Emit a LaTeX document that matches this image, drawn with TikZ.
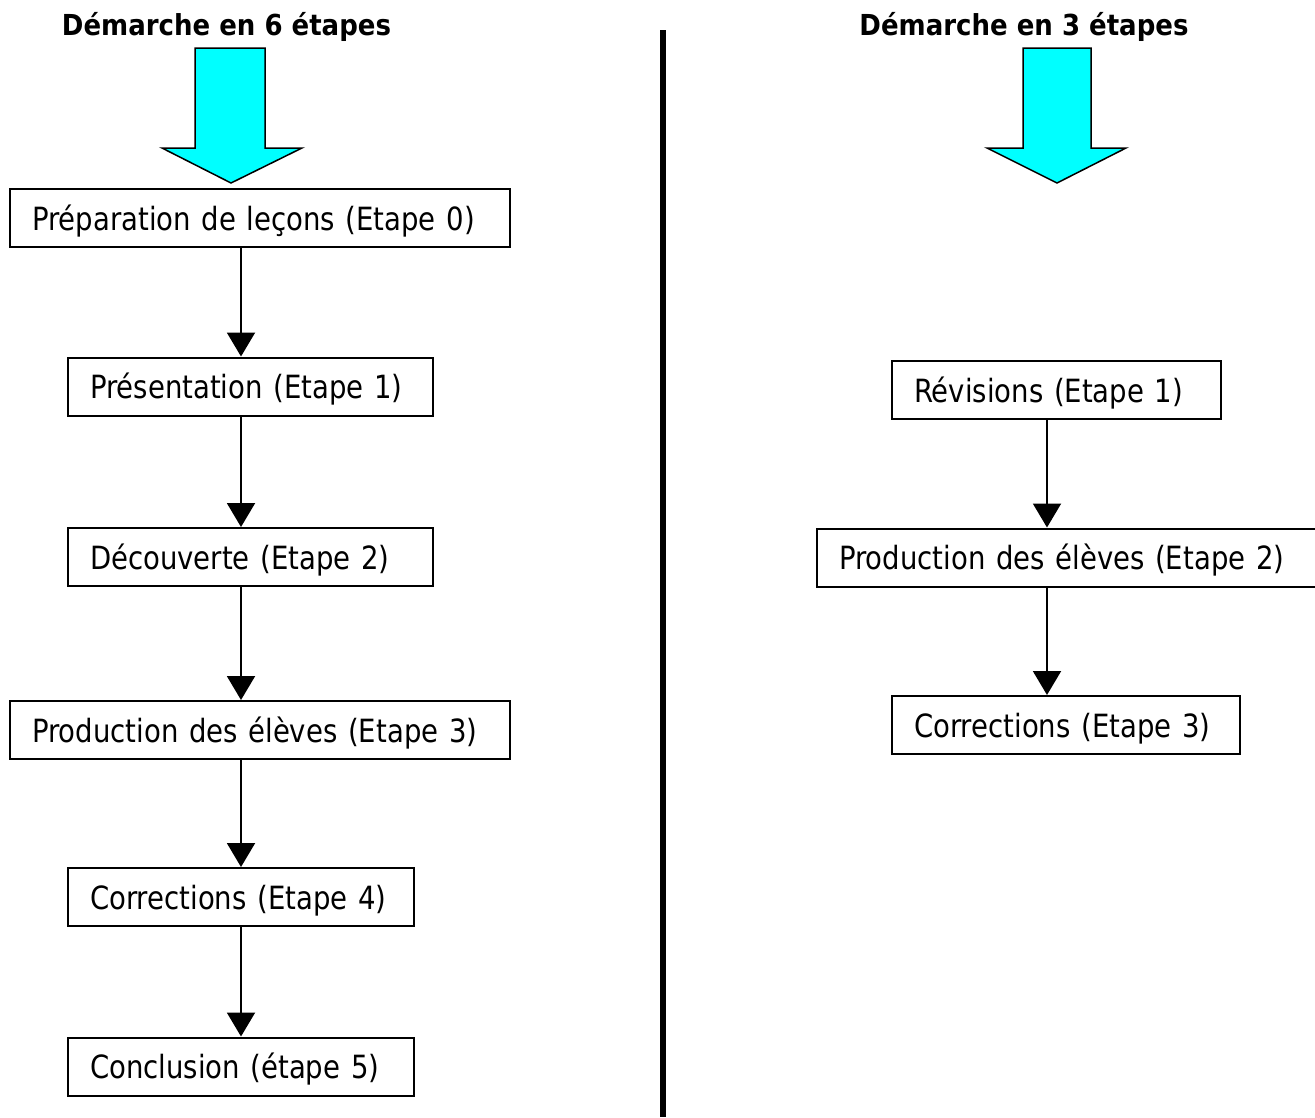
\documentclass[tikz,border=0pt]{standalone}
\usepackage{fontspec}
\setmainfont{DejaVu Sans}
\newfontfamily\stepfont[FakeStretch=0.86]{DejaVu Sans}
\newfontfamily\titlefont[FakeStretch=0.9]{DejaVu Sans Bold}
\usetikzlibrary{
    arrows.meta            % Triangle arrow tips
}
\definecolor{aqua}{RGB}{0,255,255}

\begin{document}
\begin{tikzpicture}[x=1pt, y=-1pt,
    stepbox/.style={draw, line width=2pt, inner xsep=22pt, inner ysep=0pt,
        minimum height=58pt, align=left, text height=24pt, text depth=0pt,
        font=\stepfont\fontsize{32}{38}\selectfont},
    title/.style={anchor=base, font=\titlefont\fontsize{28.9}{34}\selectfont},
    conn/.style={line width=2pt, -{Triangle[width=28pt,length=24pt]}},
    bigarrow/.style={fill=aqua, draw=black, line width=1.5pt, line join=miter}]
    \useasboundingbox (0,0) rectangle (1315,1117);

    % Left column: 6 steps
    \node[title] (t6) at (226.5,35) {Démarche en 6 étapes};
    \draw[bigarrow] (195,48) -- (265,48) -- (265,148) -- (302,148) -- (231,183)
        -- (162,148) -- (195,148) -- cycle;
    \node[stepbox, text width=456pt] (p0) at (260,218) {Préparation de leçons (Etape 0)};
    \node[stepbox, text width=321pt] (p1) at (250.5,386.5) {Présentation (Etape 1)};
    \node[stepbox, text width=321pt] (p2) at (250.5,557) {Découverte (Etape 2)};
    \node[stepbox, text width=456pt] (p3) at (260,730) {Production des élèves (Etape 3)};
    \node[stepbox, text width=302pt] (p4) at (241,897) {Corrections (Etape 4)};
    \node[stepbox, text width=302pt] (p5) at (241,1066.5) {Conclusion (étape 5)};
    \coordinate (lx) at (241,0);
    \draw[conn] (p0.south -| lx) -- (p1.north -| lx);
    \draw[conn] (p1.south -| lx) -- (p2.north -| lx);
    \draw[conn] (p2.south -| lx) -- (p3.north -| lx);
    \draw[conn] (p3.south -| lx) -- (p4.north -| lx);
    \draw[conn] (p4.south -| lx) -- (p5.north -| lx);

    % Separator
    \draw[line width=6pt] (663,30) -- (663,1117);

    % Right column: 3 steps
    \node[title] (t3) at (1024,35) {Démarche en 3 étapes};
    \draw[bigarrow] (1023,48) -- (1091,48) -- (1091,148) -- (1126,148) -- (1057,183)
        -- (987,148) -- (1023,148) -- cycle;
    \node[stepbox, text width=285pt] (r1) at (1056.5,390) {Révisions (Etape 1)};
    \node[stepbox, text width=456pt] (r2) at (1067,557.5) {Production des élèves (Etape 2)};
    \node[stepbox, text width=304pt] (r3) at (1066,725) {Corrections (Etape 3)};
    \coordinate (rx) at (1047,0);
    \draw[conn] (r1.south -| rx) -- (r2.north -| rx);
    \draw[conn] (r2.south -| rx) -- (r3.north -| rx);
\end{tikzpicture}
\end{document}
